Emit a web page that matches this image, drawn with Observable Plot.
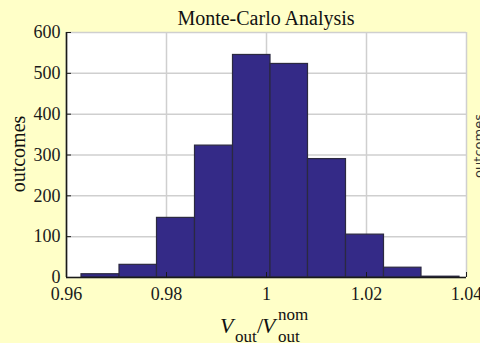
<!DOCTYPE html>
<html><head><meta charset="utf-8">
<script src="https://cdn.jsdelivr.net/npm/d3@7"></script>
<script src="https://cdn.jsdelivr.net/npm/@observablehq/plot@0.6"></script>
<style>
html,body{margin:0;padding:0;background:#FFFFC8;overflow:hidden}
</style>
</head><body><div id="chart"></div>
<script>
const binStarts = [0.963, 0.9706, 0.9781, 0.9857, 0.9933, 1.0008, 1.0083, 1.0159, 1.0235, 1.0310];
const binEnds   = [0.9706, 0.9781, 0.9857, 0.9933, 1.0008, 1.0083, 1.0159, 1.0235, 1.0310, 1.0386];
const counts    = [8, 31, 146, 323, 545, 523, 290, 105, 24, 2];
const xTicks = [0.96, 0.98, 1, 1.02, 1.04];
const xTickLabels = ["0.96", "0.98", "1", "1.02", "1.04"];
const yTicks = [0, 100, 200, 300, 400, 500, 600];
const titleText = "Monte-Carlo Analysis";
const yLabel = "outcomes";
const rightLabel = "outcomes";

const bins = counts.map((c, i) => ({x1: binStarts[i], x2: binEnds[i], count: c}));
const serif = "Liberation Serif, Times New Roman, serif";

const chart = Plot.plot({
  width: 480, height: 343,
  marginLeft: 66, marginRight: 14, marginTop: 32, marginBottom: 66,
  x: {domain: [0.96, 1.04]},
  y: {domain: [0, 600]},
  style: {background: "#FFFFC8", fontFamily: serif, fontSize: "18px", color: "#1a1a1a"},
  marks: [
    Plot.frame({fill: "white", stroke: null}),
    Plot.gridX(xTicks, {stroke: "#cfcfcf", strokeOpacity: 1, strokeWidth: 1.5}),
    Plot.gridY(yTicks, {stroke: "#cfcfcf", strokeOpacity: 1, strokeWidth: 1.5}),
    Plot.rect(bins, {x1: "x1", x2: "x2", y1: 0, y2: "count", fill: "#342A87", stroke: "#2b2940", strokeWidth: 1.2}),
    Plot.ruleX([0.96], {stroke: "#1a1a1a", strokeWidth: 1.6}),
    Plot.ruleY([0], {stroke: "#1a1a1a", strokeWidth: 1.6}),
    Plot.axisX(xTicks, {tickSize: -5, tickPadding: 15, fontSize: 18, label: null,
      tickFormat: d => xTickLabels[xTicks.indexOf(d)]}),
    Plot.axisY(yTicks, {tickSize: -5, tickPadding: 11, fontSize: 18, label: null})
  ]
});
document.getElementById("chart").appendChild(chart);

const svg = d3.select(chart);
svg.selectAll("g, text").style("font-family", serif, "important").style("font-variant", "normal", "important");

svg.append("text").attr("x", 266).attr("y", 25).attr("text-anchor", "middle")
  .style("font-family", serif).attr("font-size", 20).attr("fill", "#111").text(titleText);

svg.append("text").attr("transform", "translate(24.5,154) rotate(-90)").attr("text-anchor", "middle")
  .style("font-family", serif).attr("font-size", 20).attr("fill", "#111").text(yLabel);

svg.append("text").attr("transform", "translate(483,146) rotate(-90)").attr("text-anchor", "middle")
  .style("font-family", "DejaVu Sans, sans-serif").attr("font-size", 13).attr("fill", "#333").text(rightLabel);

const xl = svg.append("text").attr("text-anchor", "start").style("font-family", serif).attr("fill", "#111");
xl.append("tspan").attr("x", 220).attr("y", 333).attr("font-size", 22).attr("font-style", "italic").text("V");
xl.append("tspan").attr("x", 235).attr("y", 342).attr("font-size", 17).text("out");
xl.append("tspan").attr("x", 257).attr("y", 333).attr("font-size", 22).text("/");
xl.append("tspan").attr("x", 262).attr("y", 333).attr("font-size", 22).attr("font-style", "italic").text("V");
xl.append("tspan").attr("x", 278).attr("y", 320).attr("font-size", 17).text("nom");
xl.append("tspan").attr("x", 278).attr("y", 342).attr("font-size", 17).text("out");
</script>
</body></html>
